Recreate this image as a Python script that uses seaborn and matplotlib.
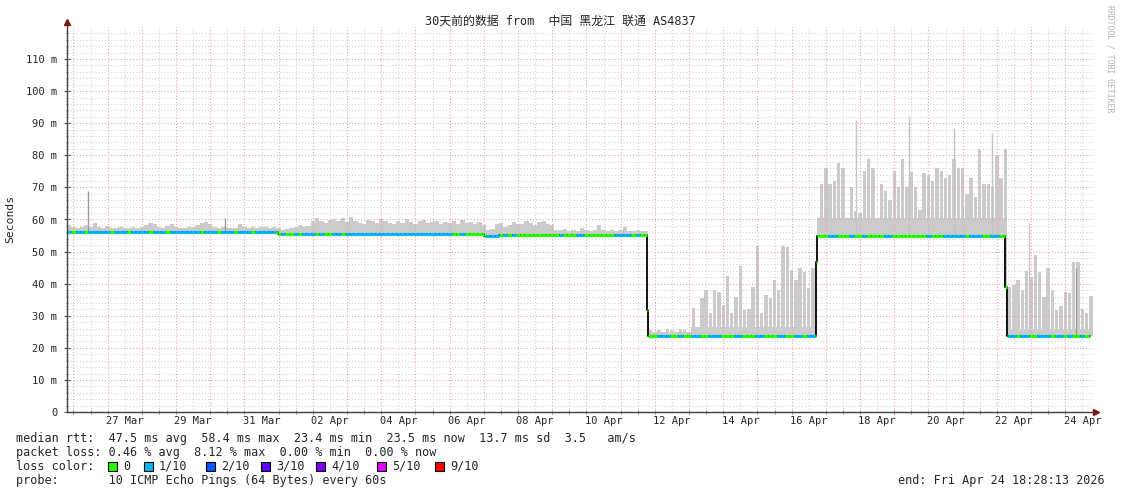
import matplotlib
matplotlib.use("Agg")
import matplotlib.pyplot as plt
from matplotlib.patches import Rectangle
import numpy as np
import seaborn as sns

W, H = 1121, 494

# ---- time axis (hours since start of the 30 day window) ----
SPAN_H = 720.0
DATA_END_H = 718.0
BIN_H = 3.0
FIRST_MIDNIGHT_H = 4.5          # 26 Mar 00:00

TICK_DATES = ["27 Mar", "29 Mar", "31 Mar", "02 Apr", "04 Apr", "06 Apr", "08 Apr",
              "10 Apr", "12 Apr", "14 Apr", "16 Apr", "18 Apr", "20 Apr", "22 Apr", "24 Apr"]
YTICK_VALUES = [0, 10, 20, 30, 40, 50, 60, 70, 80, 90, 100, 110]
YTICK_LABELS = ["0", "10 m", "20 m", "30 m", "40 m", "50 m", "60 m", "70 m",
                "80 m", "90 m", "100 m", "110 m"]

# ---- median rtt (ms), step changes ----
MED_START_H = [0.0, 148.1, 292.7, 303.0, 406.8, 407.5, 525.5, 526.5, 658.5, 659.5]
MED_VALUE = [56.0, 55.5, 54.8, 55.3, 31.8, 23.8, 46.8, 55.0, 39.0, 23.6]

# ---- continuous smoke floor (ms), step changes ----
FLOOR_START_H = [0.0, 406.8, 438.0, 526.5, 659.5]
FLOOR_VALUE = [56.0, 25.0, 26.5, 60.5, 26.0]

# ---- smoke top (ms) per 3h bin ----
SMOKE_A = [58.3, 57.8, 57.5, 57.8, 58.2, 57.6,
           58.8, 57.6, 57.4, 58.0, 57.5, 57.3, 57.8, 57.4, 57.2, 57.6,
           57.3, 57.6, 58.4, 58.8, 58.5, 57.6, 57.4, 58.0, 58.6, 57.8,
           57.5, 57.3, 57.8, 57.6, 58.4, 59.0, 59.2, 58.6, 57.6, 57.4, 57.8, 57.4, 57.5, 57.2, 58.5,
           57.6, 57.4, 57.8, 57.3, 57.6, 57.8, 57.4, 57.7, 57.3,
           56.8, 57.0, 57.2, 57.6, 58.2, 57.6, 58.0, 59.5, 60.5, 59.6, 58.8, 59.8, 60.2,
           59.5, 60.4, 59.2, 60.8, 59.6, 59.0, 58.6, 59.8, 59.4, 58.8, 60.2, 59.6, 59.0, 58.6,
           59.4, 58.9, 60.0, 59.2, 58.7, 59.5, 59.8, 58.8, 59.2, 59.6, 58.5, 59.2, 58.8, 59.6,
           58.6, 59.8, 59.0, 59.3, 58.6, 59.2, 58.4,
           56.8, 57.0, 58.5, 58.8, 57.8, 58.4, 59.2, 58.6, 58.6, 59.6, 58.8, 58.4, 59.2, 59.4,
           58.6, 58.2,
           56.8, 56.6, 57.0, 56.5, 56.8, 56.4, 57.5, 56.6, 56.4, 56.8, 58.2, 56.6, 56.5, 56.8,
           56.4, 56.7, 57.6, 56.5, 56.3, 56.6, 56.4, 56.5]
SMOKE_B = [25.5, 25.0, 25.5, 25.0, 26.0, 25.5, 25.0, 26.0, 25.5, 25.0,
           32.4, 25.5, 35.5, 38.0, 31.0, 38.0, 37.4, 33.3, 42.4, 30.8,
           35.8, 45.5, 31.8, 32.0, 39.0, 51.7, 31.0, 36.4, 35.5, 41.0,
           38.0, 51.7, 51.4, 44.2, 41.0, 45.0, 43.6, 38.6, 45.0, 31.8]
SMOKE_C = [71.0, 76.0, 71.0, 72.0, 77.6, 76.0, 58.0, 70.0, 62.5, 62.0,
           75.0, 79.0, 76.0, 58.0, 71.0, 69.0, 66.0, 75.0, 70.0, 79.0,
           70.0, 74.8, 70.0, 63.0, 74.5, 74.0, 72.0, 76.0, 75.0, 73.0,
           74.0, 79.0, 76.0, 76.0, 68.0, 73.0, 67.0, 82.0, 71.0, 71.0,
           70.0, 80.0, 73.0, 82.0]
SMOKE_D = [39.0, 39.5, 41.0, 38.0, 44.0, 42.0, 49.0, 43.6, 35.8, 45.0,
           38.0, 31.8, 33.0, 37.4, 37.0, 46.7, 46.7, 32.0, 31.0, 36.0]

# ---- loss level per 3h bin (0 = no loss, 1 = 1/10) ----
LOSS_A = [1, 0, 1, 1, 0, 1, 1, 1, 1, 1, 0, 1, 1, 1, 0, 1, 1, 1, 1, 0,
          1, 1, 1, 0, 1, 1, 1, 1, 1, 1, 1, 0, 1, 1, 1, 0, 1, 1, 1, 0,
          1, 1, 1, 0, 1, 1, 1, 1, 1, 0, 1, 0, 0, 1, 0, 1, 1, 1, 0, 1,
          0, 0, 1,
          1, 0, 1, 1, 1, 1, 1, 1, 1, 1, 1, 1, 1, 1, 1, 1, 1, 1, 1, 1,
          1, 1, 1, 1, 1, 1, 1, 0, 0, 1, 0, 0, 0, 0, 0,
          1, 1, 1, 0, 1, 0, 1, 0, 0, 0, 0, 0, 0, 0, 0, 0, 0, 1, 0, 0,
          0, 1, 1, 0, 0, 0, 0, 0, 0, 0, 1, 1, 1, 1, 0, 1, 0, 0]
LOSS_B = [0, 0, 1, 1, 1, 0, 0, 1, 0, 0, 1, 1, 0, 0, 1, 1, 1, 0, 0, 0,
          1, 1, 0, 0, 0, 1, 1, 0, 0, 0, 1, 1, 0, 0, 1, 1, 0, 1, 1, 0]
LOSS_C = [0, 0, 1, 1, 0, 0, 0, 1, 0, 0, 1, 0, 0, 0, 0, 1, 1, 0, 0, 0,
          0, 0, 0, 0, 0, 1, 0, 0, 0, 1, 1, 1, 1, 1, 0, 1, 1, 1, 0, 0,
          1, 1, 0, 0]
LOSS_D = [1, 1, 0, 1, 1, 0, 0, 1, 1, 1, 0, 1, 1, 0, 1, 0, 0, 1, 0, 0]

# ---- thin outlier spikes ----
SPIKE_H = [14.5, 110.9, 553.5, 590.7, 622.5, 648.9, 675.1, 708.0]
SPIKE_TOP = [69.0, 60.4, 91.0, 92.2, 88.5, 86.9, 58.8, 45.0]
SPIKE_DARK = [True, True, False, False, False, False, False, True]

LOSS_COLORS = ["#26ff00", "#00b8ff", "#0059ff", "#5e00ff", "#7e00ff", "#dd00ff", "#ff0000"]
LOSS_LABELS = ["0", "1/10", "2/10", "3/10", "4/10", "5/10", "9/10"]
LOSS_BOX_X = [108, 144, 206, 261, 316, 377, 435]

TITLE = "30天前的数据 from  中国 黑龙江 联通 AS4837"
LEGEND_RTT = "median rtt:  47.5 ms avg  58.4 ms max  23.4 ms min  23.5 ms now  13.7 ms sd  3.5   am/s"
LEGEND_LOSS = "packet loss: 0.46 % avg  8.12 % max  0.00 % min  0.00 % now"
LEGEND_PROBE = "probe:       10 ICMP Echo Pings (64 Bytes) every 60s"
LEGEND_END = "end: Fri Apr 24 18:28:13 2026"

sns.set_theme(style="white")
plt.rcParams["font.family"] = ["DejaVu Sans Mono", "Noto Sans CJK SC"]

MONO = ["DejaVu Sans Mono", "Noto Sans CJK SC"]
RED_GRID = "#f0a0a0"
GREY_GRID = "#d2d2d2"
SMOKE_GREY = "#cbcbcb"
DOTS = (0, (1, 2))


def step_lookup(starts_h, values, at):
    return np.asarray(values)[np.searchsorted(starts_h, at, side="right") - 1]


smoke = np.array(SMOKE_A + SMOKE_B + SMOKE_C + SMOKE_D)
loss = np.array(LOSS_A + LOSS_B + LOSS_C + LOSS_D)
n_a = len(SMOKE_A)

edges = np.arange(len(smoke) + 1) * BIN_H
breaks = np.unique(np.concatenate([edges, MED_START_H, FLOOR_START_H, [DATA_END_H]]))
breaks = breaks[breaks <= DATA_END_H]
starts, ends = breaks[:-1], breaks[1:]
bin_idx = np.minimum((starts // BIN_H).astype(int), len(smoke) - 1)
med = step_lookup(MED_START_H, MED_VALUE, starts)
floor = np.maximum(step_lookup(FLOOR_START_H, FLOOR_VALUE, starts), med)
piece_loss = loss[bin_idx]

fig = plt.figure(figsize=(W / 100, H / 100), dpi=100)
fig.patch.set_facecolor("white")
ax = fig.add_axes([67 / W, 82 / H, 1026 / W, 385 / H])
ax.set_facecolor("white")
ax.set_xlim(0, SPAN_H)
ax.set_ylim(0, 120)
for s in ax.spines.values():
    s.set_visible(False)

# grid
for v in range(2, 120, 2):
    major = v % 10 == 0
    ax.axhline(v, color=RED_GRID if major else GREY_GRID, lw=0.75, ls=DOTS,
               zorder=3 if major else 0.5)
midnights = FIRST_MIDNIGHT_H + 24 * np.arange(30)
noons = FIRST_MIDNIGHT_H + 12 + 24 * np.arange(30)
noons = noons[noons < SPAN_H]
for m in midnights:
    ax.axvline(m, color=RED_GRID, lw=0.75, ls=DOTS, zorder=3)
for n in noons:
    ax.axvline(n, color=GREY_GRID, lw=0.75, ls=DOTS, zorder=0.5)

# smoke: continuous floor plus a bar per bin
xs = np.append(starts, ends[-1])
ax.fill_between(xs, np.append(med, med[-1]), np.append(floor, floor[-1]), step="post",
                color=SMOKE_GREY, lw=0, zorder=1)
centers = edges[:-1] + BIN_H / 2
bin_med = step_lookup(MED_START_H, MED_VALUE, centers)
bar_top = np.maximum(smoke, bin_med)
bar_w = np.where(np.arange(len(smoke)) < n_a, BIN_H, BIN_H * 0.8)
ax.bar(centers, bar_top - bin_med, bottom=bin_med, width=bar_w,
       color=SMOKE_GREY, lw=0, zorder=1)
for h, t, dark in zip(SPIKE_H, SPIKE_TOP, SPIKE_DARK):
    base = step_lookup(MED_START_H, MED_VALUE, h)
    ax.vlines(h, base, t, color="#9a9a9a" if dark else "#c4c4c4", lw=1.0, zorder=1.5)

# median: black steps, coloured by loss on top
sns.lineplot(x=xs, y=np.append(med, med[-1]), drawstyle="steps-post", color="black",
             linewidth=1.3, estimator=None, sort=False, ax=ax, zorder=4)
ax.hlines(med, starts, ends, colors=[LOSS_COLORS[l] for l in piece_loss], lw=2.3,
          zorder=5, capstyle="butt")

# ticks
ax.set_yticks(YTICK_VALUES)
ax.set_yticklabels(YTICK_LABELS)
ax.set_yticks(np.arange(0, 120, 2), minor=True)
label_pos = FIRST_MIDNIGHT_H + 24 + 12 + 48 * np.arange(len(TICK_DATES))
ax.set_xticks(label_pos)
ax.set_xticklabels(TICK_DATES)
ax.set_xticks(np.concatenate([midnights, noons]), minor=True)
ax.tick_params(axis="y", which="major", length=4, width=0.8, direction="inout",
               pad=5, labelsize=7.5, color="#555555", left=True)
ax.tick_params(axis="y", which="minor", length=2, width=0.6, direction="inout",
               color="#777777", left=True)
ax.tick_params(axis="x", which="major", length=0, pad=3, labelsize=7.5, bottom=True)
ax.tick_params(axis="x", which="minor", length=3, width=0.6, direction="inout",
               color="#777777", bottom=True)
ax.set_xlabel("")
ax.set_ylabel("")

# axis lines with arrows
ax.plot([0, 0], [0, 1 + 5 / 385], transform=ax.transAxes, clip_on=False,
        color="#404040", lw=1.0, zorder=6)
ax.plot([0, 1 + 3 / 1026], [0, 0], transform=ax.transAxes, clip_on=False,
        color="#404040", lw=1.0, zorder=6)
ax.plot([0], [1 + 5 / 385], marker="^", ms=4.5, color="#7a1a10", transform=ax.transAxes,
        clip_on=False, zorder=7)
ax.plot([1 + 3 / 1026], [0], marker=">", ms=4.5, color="#7a1a10", transform=ax.transAxes,
        clip_on=False, zorder=7)

# texts
fig.text(560 / W, 1 - 21 / H, TITLE, ha="center", va="center", fontsize=8.6, family=MONO)
fig.text(10 / W, 1 - 219 / H, "Seconds", rotation=90, ha="center", va="center",
         fontsize=8.2, family=MONO)
fig.text(1110 / W, 1 - 5 / H, "RRDTOOL / TOBI OETIKER", rotation=270, ha="center", va="top",
         fontsize=5.9, color="#b4b4b4", family=MONO)

fig.text(16 / W, 1 - 438 / H, LEGEND_RTT, va="center", fontsize=8.5, family=MONO)
fig.text(16 / W, 1 - 452 / H, LEGEND_LOSS, va="center", fontsize=8.5, family=MONO)
fig.text(16 / W, 1 - 466 / H, "loss color:", va="center", fontsize=8.5, family=MONO)
for bx, col, lab in zip(LOSS_BOX_X, LOSS_COLORS, LOSS_LABELS):
    fig.add_artist(Rectangle((bx / W, 1 - 471 / H), 9 / W, 9 / H, transform=fig.transFigure,
                             facecolor=col, edgecolor="black", lw=0.8))
    fig.text((bx + 15) / W, 1 - 466 / H, lab, va="center", fontsize=8.5, family=MONO)
fig.text(16 / W, 1 - 480 / H, LEGEND_PROBE, va="center", fontsize=8.5, family=MONO)
fig.text(1105 / W, 1 - 480 / H, LEGEND_END, ha="right", va="center", fontsize=8.5, family=MONO)

fig.savefig("out.png", dpi=100, facecolor="white")
